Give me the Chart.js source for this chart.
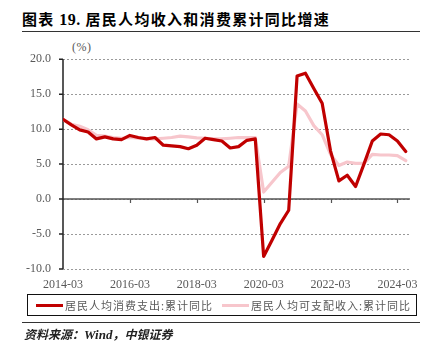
<!DOCTYPE html>
<html>
<head>
<meta charset="utf-8">
<script src="https://cdn.jsdelivr.net/npm/chart.js@4.4.1/dist/chart.umd.min.js"></script>
<style>
  html, body { margin:0; padding:0; background:#fff; }
  body { width:427px; height:356px; position:relative; overflow:hidden; }
  .abs { position:absolute; }
  #title { left:22px; top:8px; font:bold 15px "Noto Sans CJK SC", sans-serif; color:#000; white-space:nowrap; letter-spacing:1.3px; }
  #title .num { font-family:"Liberation Serif", serif; font-size:16px; letter-spacing:0.5px; }
  .rule { left:22px; width:398px; height:0; border-top:1.5px solid #333; }
  #unit { left:72px; top:40px; font:12px "Liberation Serif", serif; color:#595959; letter-spacing:0.5px; }
  #legend { left:27px; top:294px; width:390px; height:22px; box-sizing:border-box; border:1.5px solid #111; }
  .swatch { position:absolute; top:8.5px; width:27px; height:3.5px; }
  .ltext { position:absolute; top:2px; font:11px "Noto Sans CJK SC", sans-serif; color:#595959; letter-spacing:1px; white-space:nowrap; }
  #source { left:24px; top:325px; font:italic bold 12px "Noto Sans CJK SC", sans-serif; color:#222; white-space:nowrap; }
  #source .en { font-family:"Liberation Serif", serif; font-size:13px; }
  canvas { position:absolute; left:0; top:40px; }
</style>
</head>
<body>
<div id="title" class="abs">图表 <span class="num">19.</span> 居民人均收入和消费累计同比增速</div>
<div class="abs rule" style="top:31px"></div>
<div id="unit" class="abs">(%)</div>
<canvas id="c" width="427" height="256"></canvas>
<div id="legend" class="abs">
  <div class="swatch" style="left:8px;background:#C00000"></div>
  <div class="ltext" style="left:37px">居民人均消费支出:累计同比</div>
  <div class="swatch" style="left:194px;background:#F7C6CC"></div>
  <div class="ltext" style="left:223px">居民人均可支配收入:累计同比</div>
</div>
<div class="abs rule" style="top:322px"></div>
<div id="source" class="abs">资料来源：<span class="en">Wind</span>，中银证券</div>
<script>
const quarters = [
  "2014-03","2014-06","2014-09","2014-12",
  "2015-03","2015-06","2015-09","2015-12",
  "2016-03","2016-06","2016-09","2016-12",
  "2017-03","2017-06","2017-09","2017-12",
  "2018-03","2018-06","2018-09","2018-12",
  "2019-03","2019-06","2019-09","2019-12",
  "2020-03","2020-06","2020-09","2020-12",
  "2021-03","2021-06","2021-09","2021-12",
  "2022-03","2022-06","2022-09","2022-12",
  "2023-03","2023-06","2023-09","2023-12",
  "2024-03","2024-06"
];
const consumption = [
  11.4,10.6,9.9,9.6,
  8.6,8.9,8.6,8.5,
  9.1,8.8,8.6,8.8,
  7.7,7.6,7.5,7.2,
  7.7,8.7,8.5,8.3,
  7.3,7.5,8.4,8.6,
  -8.2,-5.9,-3.5,-1.6,
  17.6,18.0,15.8,13.7,
  6.9,2.6,3.4,1.8,
  5.0,8.3,9.3,9.2,
  8.3,6.8
];
const income = [
  11.4,10.7,10.4,9.9,
  9.1,9.0,8.8,8.7,
  8.8,8.7,8.6,8.6,
  8.7,8.8,9.0,8.9,
  8.75,8.7,8.6,8.6,
  8.7,8.8,8.8,8.8,
  1.0,2.4,3.8,4.7,
  13.6,12.6,10.5,9.2,
  6.4,4.8,5.3,5.1,
  5.1,6.4,6.3,6.3,
  6.2,5.5
];
const seriesNames = ["居民人均消费支出:累计同比", "居民人均可支配收入:累计同比"];
const yTicks = [-10, -5, 0, 5, 10, 15, 20];

const toPoints = arr => arr.map((v, i) => ({ x: i, y: v }));

const axisDeco = {
  id: 'axisDeco',
  beforeDatasetsDraw(chart) {
    const { ctx, chartArea: a, scales: { x, y } } = chart;
    const y0 = y.getPixelForValue(0);
    ctx.save();
    ctx.setLineDash([]);
    ctx.strokeStyle = '#555';
    ctx.lineWidth = 1.5;
    ctx.beginPath();
    ctx.moveTo(a.left, y0);
    ctx.lineTo(a.right, y0);
    ctx.stroke();
    ctx.lineWidth = 1.2;
    ctx.beginPath();
    x.ticks.forEach(t => {
      if (t.value % 8 === 0 && t.value > 0) {
        const px = Math.round(x.getPixelForValue(t.value)) + 0.5;
        ctx.moveTo(px, y0);
        ctx.lineTo(px, y0 + 4);
      }
    });
    ctx.stroke();
    ctx.strokeStyle = '#222';
    ctx.lineWidth = 1.5;
    ctx.beginPath();
    ctx.moveTo(a.left, a.top);
    ctx.lineTo(a.left, a.bottom);
    yTicks.forEach(v => {
      const py = y.getPixelForValue(v);
      ctx.moveTo(a.left - 4, py);
      ctx.lineTo(a.left, py);
    });
    ctx.stroke();
    ctx.restore();
  }
};

new Chart(document.getElementById('c'), {
  type: 'line',
  data: {
    datasets: [
      { label: seriesNames[0], data: toPoints(consumption), borderColor: '#C00000', borderWidth: 3.2,
        pointRadius: 0, tension: 0, borderJoinStyle: 'round', borderCapStyle: 'round', fill: false },
      { label: seriesNames[1], data: toPoints(income), borderColor: '#F7C6CC', borderWidth: 3.2,
        pointRadius: 0, tension: 0, borderJoinStyle: 'round', borderCapStyle: 'round', fill: false }
    ]
  },
  options: {
    responsive: false,
    animation: false,
    layout: { padding: { top: 18, right: 17, left: 0, bottom: 0 } },
    plugins: { legend: { display: false }, tooltip: { enabled: false } },
    scales: {
      x: {
        type: 'linear',
        min: 0,
        max: 41.5,
        grid: { display: false, drawTicks: false },
        border: { display: false },
        ticks: {
          stepSize: 8,
          includeBounds: false,
          autoSkip: false,
          maxRotation: 0,
          padding: 9,
          color: '#595959',
          font: { family: '"Liberation Serif", serif', size: 12 },
          callback: v => (Number.isInteger(v) && v % 8 === 0) ? quarters[v] : null
        },
        afterFit: s => { s.height = 27; }
      },
      y: {
        min: -10,
        max: 20,
        grid: { color: '#9a9a9a', lineWidth: 1, drawTicks: false },
        border: { display: false, dash: [2, 2] },
        ticks: {
          stepSize: 5,
          padding: 12,
          color: '#595959',
          font: { family: '"Liberation Serif", serif', size: 12 },
          callback: v => Number(v).toFixed(1)
        },
        afterFit: s => { s.width = 63; }
      }
    }
  },
  plugins: [axisDeco]
});
</script>
</body>
</html>
